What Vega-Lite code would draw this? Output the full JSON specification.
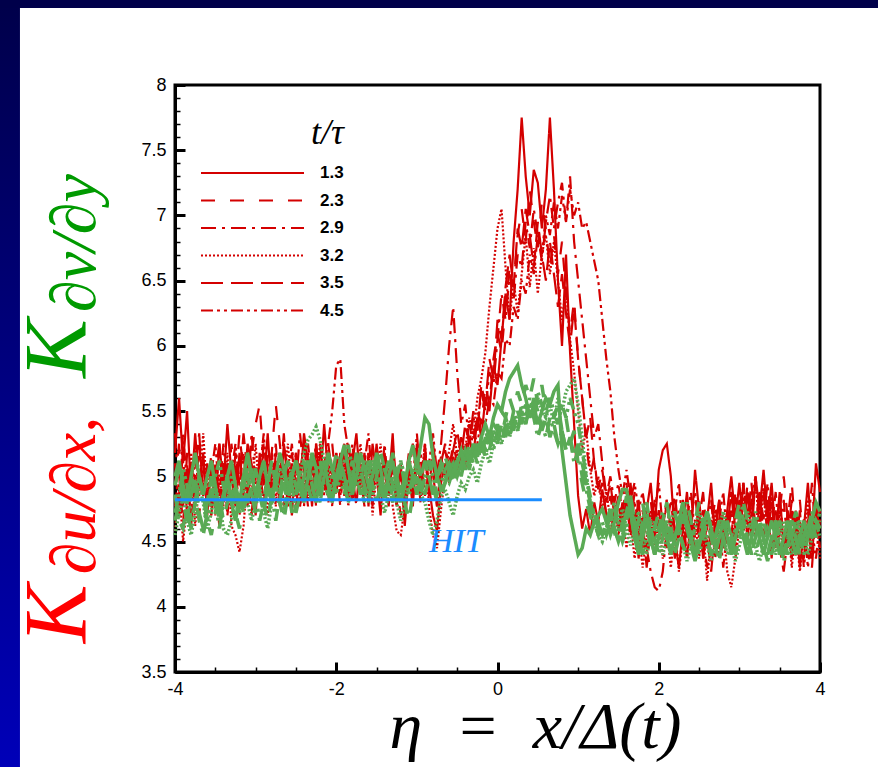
{
"$schema": "https://vega.github.io/schema/vega-lite/v6.json",
"width": 645, "height": 587,
"autosize": {"type": "none"},
"padding": {"left": 175, "top": 85, "right": 58, "bottom": 95},
"background": "white",
"config": {"view": {"stroke": "black", "strokeWidth": 3}, "axis": {"grid": false}},
"datasets": {
"meta": [{"key":"a","q":"u","t":"1.3"},{"key":"b","q":"u","t":"2.3"},{"key":"c","q":"u","t":"2.9"},{"key":"d","q":"u","t":"3.2"},{"key":"e","q":"u","t":"3.5"},{"key":"f","q":"u","t":"4.5"},{"key":"g","q":"v","t":"1.3"},{"key":"h","q":"v","t":"2.3"},{"key":"i","q":"v","t":"2.9"},{"key":"j","q":"v","t":"3.2"},{"key":"k","q":"v","t":"3.5"},{"key":"l","q":"v","t":"4.5"}],
"main": [
{"x":-4,"a":5.18,"b":4.77,"c":5.33,"d":4.58,"e":4.93,"f":5.1,"g":5,"h":4.66,"i":4.86,"j":4.55,"k":4.93,"l":4.72},
{"x":-3.95,"a":5.6,"b":5.02,"c":4.85,"d":4.93,"e":5.25,"f":4.7,"g":5.12,"h":4.8,"i":4.66,"j":4.72,"k":5.06,"l":4.86},
{"x":-3.9,"a":5.1,"b":4.62,"c":5.18,"d":4.5,"e":4.77,"f":5.33,"g":4.93,"h":5,"i":4.6,"j":4.86,"k":4.8,"l":5.06},
{"x":-3.85,"a":5.5,"b":5.18,"c":4.7,"d":4.77,"e":5.1,"f":4.93,"g":4.8,"h":4.72,"i":4.8,"j":4.66,"k":4.66,"l":4.93},
{"x":-3.8,"a":4.85,"b":4.85,"c":5.1,"d":5.18,"e":4.62,"f":4.7,"g":5,"h":4.6,"i":5,"j":4.55,"k":4.86,"l":4.66},
{"x":-3.75,"a":5.33,"b":5.25,"c":4.77,"d":4.62,"e":5.02,"f":5.18,"g":5.18,"h":4.8,"i":4.86,"j":4.72,"k":5,"l":4.8},
{"x":-3.7,"a":4.93,"b":4.7,"c":5.25,"d":4.93,"e":5.33,"f":4.85,"g":5,"h":5,"i":4.66,"j":4.93,"k":4.72,"l":5},
{"x":-3.65,"a":5.18,"b":5.02,"c":4.85,"d":5.33,"e":4.85,"f":5.1,"g":4.86,"h":4.86,"i":4.55,"j":4.8,"k":4.6,"l":4.86},
{"x":-3.6,"a":4.7,"b":4.77,"c":5.02,"d":4.85,"e":5.1,"f":4.77,"g":5,"h":4.66,"i":4.72,"j":4.6,"k":4.8,"l":4.66},
{"x":-3.55,"a":5.1,"b":5.18,"c":4.7,"d":5.1,"e":4.7,"f":5.02,"g":5.12,"h":4.55,"i":4.93,"j":4.72,"k":5,"l":4.8},
{"x":-3.5,"a":4.77,"b":4.93,"c":5.1,"d":4.7,"e":5.02,"f":5.25,"g":4.93,"h":4.72,"i":4.8,"j":4.93,"k":4.86,"l":5},
{"x":-3.45,"a":5.25,"b":4.62,"c":4.85,"d":5.02,"e":5.25,"f":4.85,"g":4.72,"h":4.86,"i":4.6,"j":4.8,"k":4.66,"l":5.12},
{"x":-3.4,"a":4.93,"b":5.1,"c":5.25,"d":4.77,"e":4.85,"f":5.1,"g":4.86,"h":4.66,"i":4.8,"j":4.6,"k":4.86,"l":4.93},
{"x":-3.35,"a":5.4,"b":4.85,"c":4.93,"d":5.18,"e":5.1,"f":4.7,"g":5,"h":4.8,"i":5,"j":4.55,"k":5,"l":4.8},
{"x":-3.3,"a":5.02,"b":5.25,"c":4.77,"d":4.62,"e":4.77,"f":5.02,"g":5.12,"h":4.93,"i":4.8,"j":4.66,"k":4.8,"l":5},
{"x":-3.25,"a":4.77,"b":4.93,"c":5.1,"d":4.55,"e":5.18,"f":5.25,"g":4.93,"h":4.72,"i":4.66,"j":4.86,"k":4.66,"l":4.86},
{"x":-3.2,"a":5.18,"b":5.33,"c":4.7,"d":4.42,"e":4.93,"f":4.93,"g":4.8,"h":4.6,"i":4.86,"j":4.72,"k":4.86,"l":4.72},
{"x":-3.15,"a":4.85,"b":5.02,"c":5.02,"d":4.62,"e":5.33,"f":5.18,"g":5,"h":4.8,"i":4.72,"j":4.93,"k":5,"l":4.93},
{"x":-3.1,"a":5.25,"b":4.77,"c":4.85,"d":5.02,"e":5.02,"f":4.85,"g":5.18,"h":5,"i":4.93,"j":4.8,"k":4.8,"l":5.06},
{"x":-3.05,"a":5.1,"b":5.18,"c":5.33,"d":4.85,"e":4.7,"f":5.1,"g":5,"h":4.86,"i":5.06,"j":4.66,"k":4.93,"l":4.86},
{"x":-3,"a":4.7,"b":5.4,"c":4.93,"d":5.25,"e":5.1,"f":4.77,"g":4.86,"h":4.72,"i":4.86,"j":4.8,"k":5.06,"l":4.8},
{"x":-2.95,"a":5.18,"b":5.55,"c":5.1,"d":4.85,"e":4.85,"f":5.02,"g":5,"h":4.93,"i":4.66,"j":4.93,"k":4.86,"l":5},
{"x":-2.9,"a":4.93,"b":5.1,"c":4.77,"d":5.1,"e":5.25,"f":5.33,"g":5.12,"h":4.8,"i":4.8,"j":4.72,"k":4.72,"l":5.12},
{"x":-2.85,"a":5.33,"b":4.85,"c":5.18,"d":4.7,"e":5.02,"f":4.93,"g":4.93,"h":4.66,"i":5,"j":4.6,"k":4.93,"l":4.93},
{"x":-2.8,"a":4.85,"b":5.18,"c":4.93,"d":5.02,"e":4.77,"f":5.18,"g":4.8,"h":4.86,"i":4.86,"j":4.8,"k":5.12,"l":4.8},
{"x":-2.75,"a":5.1,"b":5.55,"c":5.25,"d":4.77,"e":5.18,"f":4.85,"g":5,"h":5,"i":4.66,"j":5,"k":4.93,"l":4.93},
{"x":-2.7,"a":4.77,"b":5.25,"c":4.85,"d":5.18,"e":4.93,"f":5.1,"g":5.18,"h":4.8,"i":4.86,"j":4.86,"k":4.8,"l":5.06},
{"x":-2.65,"a":5.25,"b":4.93,"c":5.1,"d":4.93,"e":5.33,"f":4.77,"g":5.06,"h":4.66,"i":5.06,"j":4.72,"k":5,"l":4.93},
{"x":-2.6,"a":5.02,"b":5.1,"c":4.77,"d":5.25,"e":4.85,"f":5.02,"g":4.86,"h":4.86,"i":4.93,"j":4.93,"k":5.12,"l":4.8},
{"x":-2.55,"a":4.7,"b":4.85,"c":5.18,"d":4.85,"e":5.1,"f":5.25,"g":5,"h":5.06,"i":4.72,"j":5.06,"k":4.93,"l":5},
{"x":-2.5,"a":5.18,"b":5.18,"c":4.93,"d":5.1,"e":4.77,"f":4.85,"g":5.12,"h":4.93,"i":4.86,"j":4.86,"k":4.72,"l":5.12},
{"x":-2.45,"a":4.93,"b":4.77,"c":5.33,"d":4.77,"e":5.02,"f":5.1,"g":4.93,"h":4.8,"i":5,"j":5,"k":4.86,"l":5},
{"x":-2.4,"a":5.33,"b":5.02,"c":5.02,"d":5.02,"e":5.25,"f":4.77,"g":4.8,"h":5,"i":5.12,"j":5.18,"k":5,"l":4.86},
{"x":-2.35,"a":5.1,"b":5.25,"c":4.77,"d":4.85,"e":4.93,"f":5.18,"g":5,"h":5.12,"i":4.93,"j":5.28,"k":5.12,"l":5},
{"x":-2.3,"a":4.77,"b":4.93,"c":5.1,"d":5.18,"e":5.1,"f":5.02,"g":5.18,"h":4.93,"i":4.8,"j":5.32,"k":4.93,"l":5.12},
{"x":-2.25,"a":5.25,"b":5.18,"c":4.93,"d":4.93,"e":4.77,"f":5.25,"g":5.06,"h":4.8,"i":5,"j":5.38,"k":4.8,"l":4.93},
{"x":-2.2,"a":4.93,"b":4.85,"c":5.25,"d":5.25,"e":5.18,"f":4.93,"g":4.86,"h":5,"i":5.12,"j":5.28,"k":5,"l":4.8},
{"x":-2.15,"a":5.4,"b":5.1,"c":4.85,"d":4.93,"e":4.93,"f":5.1,"g":5,"h":5.12,"i":4.93,"j":5.12,"k":5.12,"l":5},
{"x":-2.1,"a":5.02,"b":4.77,"c":5.18,"d":5.1,"e":5.25,"f":5.25,"g":5.18,"h":4.93,"i":4.86,"j":5,"k":4.93,"l":5.12},
{"x":-2.05,"a":4.85,"b":5.25,"c":4.93,"d":4.77,"e":5.02,"f":5.5,"g":5.06,"h":4.8,"i":5,"j":4.86,"k":4.8,"l":5},
{"x":-2,"a":5.18,"b":4.93,"c":5.1,"d":5.18,"e":4.85,"f":5.85,"g":4.93,"h":5,"i":5.18,"j":5,"k":5,"l":4.86},
{"x":-1.95,"a":4.93,"b":5.18,"c":4.77,"d":4.85,"e":5.18,"f":5.9,"g":5.12,"h":5.12,"i":5,"j":5.12,"k":5.12,"l":5},
{"x":-1.9,"a":5.25,"b":4.85,"c":5.18,"d":5.1,"e":4.93,"f":5.4,"g":5.24,"h":4.93,"i":4.86,"j":4.93,"k":5,"l":5.12},
{"x":-1.85,"a":4.85,"b":5.1,"c":4.93,"d":4.77,"e":5.25,"f":5.2,"g":5.06,"h":4.8,"i":5,"j":4.8,"k":4.86,"l":5.24},
{"x":-1.8,"a":5.1,"b":4.77,"c":5.25,"d":5.18,"e":5.02,"f":4.93,"g":4.86,"h":4.93,"i":5.12,"j":4.93,"k":5,"l":5.06},
{"x":-1.75,"a":5.33,"b":5.18,"c":4.93,"d":4.93,"e":4.77,"f":5.18,"g":5,"h":5.12,"i":5,"j":5.06,"k":5.18,"l":4.93},
{"x":-1.7,"a":4.93,"b":5.02,"c":5.18,"d":5.25,"e":5.18,"f":4.85,"g":5.18,"h":5,"i":4.86,"j":4.93,"k":5.06,"l":5},
{"x":-1.65,"a":5.18,"b":4.77,"c":4.85,"d":4.93,"e":4.93,"f":5.1,"g":5.06,"h":4.86,"i":5,"j":4.8,"k":4.93,"l":5.12},
{"x":-1.6,"a":4.77,"b":5.18,"c":5.1,"d":5.18,"e":5.1,"f":5.33,"g":4.93,"h":5,"i":5.12,"j":4.93,"k":4.8,"l":5},
{"x":-1.55,"a":5.25,"b":4.93,"c":4.77,"d":4.7,"e":4.85,"f":4.93,"g":5,"h":5.18,"i":4.93,"j":5.12,"k":5,"l":4.86},
{"x":-1.5,"a":5.02,"b":5.25,"c":5.18,"d":5.02,"e":5.25,"f":5.18,"g":5.18,"h":5.06,"i":4.8,"j":5,"k":5.12,"l":5},
{"x":-1.45,"a":4.7,"b":4.85,"c":4.93,"d":5.25,"e":4.93,"f":4.77,"g":5.06,"h":4.86,"i":4.93,"j":4.86,"k":4.93,"l":5.18},
{"x":-1.4,"a":5.18,"b":5.1,"c":5.25,"d":4.85,"e":5.18,"f":5.1,"g":4.86,"h":5,"i":5.06,"j":4.72,"k":4.8,"l":5.06},
{"x":-1.35,"a":4.93,"b":4.77,"c":4.85,"d":5.1,"e":4.85,"f":4.85,"g":5,"h":5.12,"i":4.93,"j":4.86,"k":5,"l":4.93},
{"x":-1.3,"a":5.33,"b":5.18,"c":5.1,"d":4.77,"e":5.1,"f":5.25,"g":5.12,"h":4.93,"i":4.8,"j":5,"k":5.18,"l":4.86},
{"x":-1.25,"a":4.77,"b":4.93,"c":4.77,"d":4.58,"e":4.77,"f":4.93,"g":4.93,"h":4.8,"i":5,"j":4.8,"k":5,"l":5},
{"x":-1.2,"a":5.1,"b":4.7,"c":5.02,"d":4.55,"e":4.93,"f":5.1,"g":4.8,"h":4.93,"i":5.12,"j":4.66,"k":4.86,"l":5.12},
{"x":-1.15,"a":4.62,"b":4.93,"c":4.77,"d":4.77,"e":4.7,"f":4.77,"g":4.93,"h":4.8,"i":4.93,"j":4.8,"k":5,"l":5},
{"x":-1.1,"a":5.02,"b":5.18,"c":5.1,"d":5.1,"e":5.1,"f":5.02,"g":5.12,"h":4.66,"i":4.86,"j":4.93,"k":5.12,"l":4.86},
{"x":-1.05,"a":4.77,"b":4.85,"c":4.93,"d":4.85,"e":4.85,"f":5.25,"g":5.24,"h":4.86,"i":5,"j":5.06,"k":5,"l":4.93},
{"x":-1,"a":5.25,"b":5.1,"c":5.33,"d":5.18,"e":5.18,"f":4.93,"g":5.06,"h":5,"i":5.12,"j":4.93,"k":4.86,"l":5.06},
{"x":-0.95,"a":4.85,"b":4.77,"c":4.93,"d":4.93,"e":4.93,"f":5.18,"g":5.25,"h":4.86,"i":5,"j":4.86,"k":5,"l":4.93},
{"x":-0.9,"a":5.18,"b":5.18,"c":5.18,"d":5.25,"e":5.25,"f":4.85,"g":5.45,"h":5,"i":4.86,"j":4.8,"k":5.12,"l":5},
{"x":-0.85,"a":4.93,"b":4.93,"c":4.85,"d":4.77,"e":4.85,"f":5.1,"g":5.4,"h":5.12,"i":5,"j":4.66,"k":5,"l":5.12},
{"x":-0.8,"a":4.7,"b":5.02,"c":5.25,"d":4.55,"e":5.1,"f":5.33,"g":5.15,"h":4.93,"i":5.12,"j":4.55,"k":4.86,"l":5},
{"x":-0.75,"a":4.58,"b":4.77,"c":5.02,"d":4.45,"e":4.77,"f":5.02,"g":5,"h":4.8,"i":5,"j":4.66,"k":5,"l":4.86},
{"x":-0.7,"a":4.95,"b":5.05,"c":5.25,"d":4.75,"e":5.1,"f":5.15,"g":4.9,"h":4.85,"i":5.1,"j":4.85,"k":5.05,"l":4.95},
{"x":-0.65,"a":5.1,"b":5.2,"c":5.6,"d":5,"e":5.25,"f":5,"g":4.95,"h":4.95,"i":5,"j":4.9,"k":5.15,"l":5.05},
{"x":-0.6,"a":4.95,"b":5.05,"c":6,"d":5.2,"e":5.05,"f":5.15,"g":5.05,"h":5.1,"i":4.95,"j":4.8,"k":5.05,"l":5.1},
{"x":-0.55,"a":5.15,"b":5.25,"c":6.3,"d":5.4,"e":5.2,"f":5.05,"g":5.1,"h":5,"i":5.05,"j":4.7,"k":4.95,"l":5},
{"x":-0.5,"a":5,"b":5.1,"c":5.8,"d":5.15,"e":5.35,"f":5.2,"g":5,"h":5.1,"i":5.1,"j":4.85,"k":5.1,"l":5.15},
{"x":-0.45,"a":5.2,"b":5.3,"c":5.4,"d":5.3,"e":5.15,"f":5.1,"g":5.1,"h":5.2,"i":5,"j":4.95,"k":5.2,"l":5.05},
{"x":-0.4,"a":5.05,"b":5.15,"c":5.55,"d":5.2,"e":5.4,"f":5.25,"g":5.2,"h":5.1,"i":5.15,"j":4.9,"k":5.05,"l":5.2},
{"x":-0.35,"a":5.3,"b":5.4,"c":5.25,"d":5.45,"e":5.25,"f":5.15,"g":5.1,"h":5.25,"i":5.05,"j":5,"k":5.2,"l":5.1},
{"x":-0.3,"a":5.15,"b":5.25,"c":5.45,"d":5.3,"e":5.5,"f":5.35,"g":5.25,"h":5.15,"i":5.2,"j":5.05,"k":5.1,"l":5.25},
{"x":-0.25,"a":5.45,"b":5.5,"c":5.35,"d":5.6,"e":5.35,"f":5.25,"g":5.15,"h":5.3,"i":5.1,"j":4.95,"k":5.25,"l":5.15},
{"x":-0.2,"a":5.3,"b":5.4,"c":5.65,"d":5.75,"e":5.7,"f":5.45,"g":5.3,"h":5.2,"i":5.25,"j":5.1,"k":5.15,"l":5.3},
{"x":-0.15,"a":5.6,"b":5.7,"c":5.5,"d":5.95,"e":5.55,"f":5.4,"g":5.4,"h":5.35,"i":5.15,"j":5.2,"k":5.3,"l":5.2},
{"x":-0.1,"a":5.5,"b":5.55,"c":5.8,"d":6.3,"e":5.9,"f":5.6,"g":5.3,"h":5.25,"i":5.3,"j":5.1,"k":5.2,"l":5.35},
{"x":-0.05,"a":5.85,"b":5.9,"c":5.7,"d":6.6,"e":5.75,"f":5.55,"g":5.45,"h":5.4,"i":5.2,"j":5.25,"k":5.35,"l":5.25},
{"x":0,"a":5.7,"b":6.1,"c":6.05,"d":6.9,"e":6.2,"f":5.8,"g":5.55,"h":5.35,"i":5.35,"j":5.35,"k":5.25,"l":5.4},
{"x":0.05,"a":6.05,"b":5.95,"c":6.4,"d":7.05,"e":6.05,"f":5.75,"g":5.5,"h":5.5,"i":5.25,"j":5.25,"k":5.4,"l":5.3},
{"x":0.1,"a":6.4,"b":6.3,"c":6.2,"d":6.6,"e":6.45,"f":6.05,"g":5.65,"h":5.45,"i":5.4,"j":5.4,"k":5.3,"l":5.45},
{"x":0.15,"a":6.2,"b":6.6,"c":6.55,"d":6.2,"e":6.7,"f":6,"g":5.75,"h":5.6,"i":5.3,"j":5.3,"k":5.45,"l":5.35},
{"x":0.2,"a":6.8,"b":6.45,"c":6.35,"d":6.5,"e":6.45,"f":6.3,"g":5.8,"h":5.5,"i":5.45,"j":5.45,"k":5.35,"l":5.5},
{"x":0.25,"a":7.2,"b":6.85,"c":6.7,"d":6.25,"e":6.9,"f":6.2,"g":5.85,"h":5.65,"i":5.35,"j":5.35,"k":5.5,"l":5.4},
{"x":0.3,"a":7.75,"b":7.05,"c":6.6,"d":6.55,"e":6.75,"f":6.5,"g":5.7,"h":5.55,"i":5.5,"j":5.5,"k":5.4,"l":5.55},
{"x":0.35,"a":7.3,"b":6.8,"c":6.95,"d":6.85,"e":7.05,"f":6.4,"g":5.6,"h":5.7,"i":5.4,"j":5.4,"k":5.55,"l":5.45},
{"x":0.4,"a":7,"b":7.2,"c":6.75,"d":6.45,"e":6.85,"f":6.7,"g":5.45,"h":5.6,"i":5.55,"j":5.55,"k":5.45,"l":5.6},
{"x":0.45,"a":7.35,"b":6.95,"c":7.05,"d":6.75,"e":6.6,"f":6.55,"g":5.55,"h":5.75,"i":5.45,"j":5.45,"k":5.6,"l":5.5},
{"x":0.5,"a":7.25,"b":6.75,"c":6.85,"d":6.4,"e":6.95,"f":6.85,"g":5.4,"h":5.55,"i":5.3,"j":5.6,"k":5.5,"l":5.65},
{"x":0.55,"a":6.9,"b":7.1,"c":6.65,"d":6.7,"e":6.7,"f":6.7,"g":5.5,"h":5.7,"i":5.4,"j":5.5,"k":5.35,"l":5.55},
{"x":0.6,"a":7.2,"b":6.9,"c":6.95,"d":6.85,"e":6.5,"f":7,"g":5.6,"h":5.5,"i":5.3,"j":5.45,"k":5.45,"l":5.45},
{"x":0.65,"a":7.75,"b":6.6,"c":7.15,"d":6.55,"e":6.8,"f":6.85,"g":5.55,"h":5.6,"i":5.45,"j":5.55,"k":5.3,"l":5.6},
{"x":0.7,"a":7.2,"b":6.85,"c":6.9,"d":6.8,"e":6.55,"f":7.1,"g":5.65,"h":5.45,"i":5.35,"j":5.4,"k":5.4,"l":5.5},
{"x":0.75,"a":6.5,"b":6.55,"c":7.1,"d":6.5,"e":6.3,"f":6.9,"g":5.7,"h":5.55,"i":5.25,"j":5.6,"k":5.25,"l":5.4},
{"x":0.8,"a":6,"b":6.8,"c":7.25,"d":6.2,"e":6.55,"f":7.15,"g":5.2,"h":5.35,"i":5.35,"j":5.5,"k":5.35,"l":5.55},
{"x":0.85,"a":6.7,"b":6.4,"c":6.95,"d":6.45,"e":6.25,"f":6.95,"g":4.95,"h":5.45,"i":5.2,"j":5.65,"k":5.2,"l":5.45},
{"x":0.9,"a":5.95,"b":6.1,"c":7.3,"d":6.05,"e":6,"f":7.2,"g":4.7,"h":5.25,"i":5.3,"j":5.7,"k":5.3,"l":5.6},
{"x":0.95,"a":5.4,"b":6.35,"c":6.8,"d":5.8,"e":6.3,"f":7,"g":4.55,"h":5.35,"i":5.1,"j":5.75,"k":5.15,"l":5.5},
{"x":1,"a":4.85,"b":5.9,"c":6.5,"d":5.5,"e":5.9,"f":7.1,"g":4.4,"h":5.1,"i":5.2,"j":5.55,"k":5.25,"l":5.4},
{"x":1.05,"a":4.6,"b":5.6,"c":6.2,"d":5.2,"e":5.6,"f":6.9,"g":4.45,"h":4.95,"i":5,"j":5.3,"k":5.1,"l":5.2},
{"x":1.1,"a":4.75,"b":5.25,"c":5.9,"d":5.35,"e":5.3,"f":6.95,"g":4.6,"h":4.8,"i":4.9,"j":5,"k":4.95,"l":5},
{"x":1.15,"a":4.55,"b":5,"c":5.6,"d":5.05,"e":5.45,"f":6.8,"g":4.55,"h":4.7,"i":4.75,"j":4.8,"k":4.8,"l":4.85},
{"x":1.2,"a":4.8,"b":5.15,"c":5.3,"d":4.85,"e":5.1,"f":6.65,"g":4.65,"h":4.6,"i":4.65,"j":4.65,"k":4.7,"l":4.7},
{"x":1.25,"a":4.65,"b":4.85,"c":5.4,"d":5,"e":4.9,"f":6.5,"g":4.7,"h":4.65,"i":4.55,"j":4.55,"k":4.6,"l":4.65},
{"x":1.3,"a":4.9,"b":4.95,"c":5.1,"d":4.75,"e":5.05,"f":6.2,"g":4.75,"h":4.55,"i":4.65,"j":4.5,"k":4.55,"l":4.55},
{"x":1.35,"a":4.7,"b":4.7,"c":4.85,"d":4.9,"e":4.8,"f":5.9,"g":4.65,"h":4.65,"i":4.55,"j":4.6,"k":4.65,"l":4.6},
{"x":1.4,"a":4.55,"b":4.85,"c":5,"d":4.65,"e":4.95,"f":5.65,"g":4.55,"h":4.75,"i":4.65,"j":4.7,"k":4.75,"l":4.7},
{"x":1.45,"a":4.75,"b":4.65,"c":4.8,"d":4.8,"e":4.7,"f":5.3,"g":4.65,"h":4.6,"i":4.75,"j":4.55,"k":4.6,"l":4.8},
{"x":1.5,"a":4.6,"b":4.8,"c":4.95,"d":4.55,"e":4.85,"f":5.05,"g":4.8,"h":4.5,"i":4.6,"j":4.65,"k":4.5,"l":4.65},
{"x":1.55,"a":4.8,"b":4.55,"c":4.7,"d":4.7,"e":4.6,"f":4.85,"g":4.9,"h":4.65,"i":4.5,"j":4.75,"k":4.6,"l":4.55},
{"x":1.6,"a":4.67,"b":4.82,"c":4.95,"d":4.45,"e":4.82,"f":5.05,"g":4.9,"h":4.85,"i":4.6,"j":4.6,"k":4.73,"l":4.66},
{"x":1.65,"a":4.95,"b":4.6,"c":4.6,"d":4.67,"e":4.53,"f":4.82,"g":4.73,"h":4.73,"i":4.8,"j":4.47,"k":4.85,"l":4.8},
{"x":1.7,"a":4.6,"b":4.88,"c":4.82,"d":4.37,"e":4.74,"f":4.95,"g":4.53,"h":4.53,"i":4.66,"j":4.6,"k":4.66,"l":4.6},
{"x":1.75,"a":4.82,"b":4.53,"c":4.53,"d":4.6,"e":4.37,"f":4.74,"g":4.4,"h":4.66,"i":4.53,"j":4.73,"k":4.47,"l":4.47},
{"x":1.8,"a":4.45,"b":4.74,"c":4.74,"d":4.3,"e":4.67,"f":4.88,"g":4.53,"h":4.8,"i":4.4,"j":4.53,"k":4.6,"l":4.66},
{"x":1.85,"a":4.74,"b":4.45,"c":4.45,"d":4.53,"e":4.3,"f":4.67,"g":4.66,"h":4.6,"i":4.53,"j":4.4,"k":4.73,"l":4.8},
{"x":1.9,"a":4.95,"b":4.82,"c":4.27,"d":4.74,"e":4.6,"f":4.53,"g":4.53,"h":4.47,"i":4.66,"j":4.53,"k":4.53,"l":4.6},
{"x":1.95,"a":4.6,"b":4.53,"c":4.15,"d":4.45,"e":4.82,"f":4.74,"g":4.4,"h":4.6,"i":4.53,"j":4.66,"k":4.4,"l":4.47},
{"x":2,"a":5.05,"b":4.74,"c":4.12,"d":4.67,"e":4.53,"f":4.95,"g":4.53,"h":4.73,"i":4.4,"j":4.53,"k":4.53,"l":4.6},
{"x":2.05,"a":5.2,"b":4.53,"c":4.27,"d":4.37,"e":4.74,"f":4.6,"g":4.66,"h":4.6,"i":4.53,"j":4.4,"k":4.66,"l":4.73},
{"x":2.1,"a":5.25,"b":4.82,"c":4.6,"d":4.6,"e":4.45,"f":4.82,"g":4.53,"h":4.47,"i":4.66,"j":4.53,"k":4.8,"l":4.6},
{"x":2.15,"a":5,"b":4.6,"c":4.82,"d":4.3,"e":4.67,"f":4.53,"g":4.4,"h":4.6,"i":4.53,"j":4.66,"k":4.6,"l":4.47},
{"x":2.2,"a":4.53,"b":4.88,"c":4.53,"d":4.6,"e":4.37,"f":4.74,"g":4.53,"h":4.73,"i":4.4,"j":4.73,"k":4.47,"l":4.53},
{"x":2.25,"a":4.3,"b":4.53,"c":4.74,"d":4.27,"e":4.6,"f":4.95,"g":4.66,"h":4.6,"i":4.53,"j":4.6,"k":4.6,"l":4.66},
{"x":2.3,"a":4.6,"b":4.74,"c":4.45,"d":4.53,"e":4.82,"f":4.6,"g":4.8,"h":4.47,"i":4.66,"j":4.47,"k":4.73,"l":4.8},
{"x":2.35,"a":4.88,"b":4.37,"c":4.67,"d":4.74,"e":4.53,"f":4.37,"g":4.66,"h":4.4,"i":4.8,"j":4.35,"k":4.6,"l":4.66},
{"x":2.4,"a":4.53,"b":4.67,"c":4.88,"d":4.45,"e":4.74,"f":4.67,"g":4.53,"h":4.53,"i":4.66,"j":4.47,"k":4.47,"l":4.53},
{"x":2.45,"a":5.05,"b":4.45,"c":4.53,"d":4.67,"e":4.37,"f":4.88,"g":4.4,"h":4.66,"i":4.53,"j":4.6,"k":4.35,"l":4.4},
{"x":2.5,"a":4.74,"b":4.82,"c":4.74,"d":4.37,"e":4.67,"f":4.53,"g":4.47,"h":4.8,"i":4.4,"j":4.73,"k":4.47,"l":4.53},
{"x":2.55,"a":4.37,"b":4.53,"c":4.37,"d":4.6,"e":4.88,"f":4.74,"g":4.6,"h":4.66,"i":4.53,"j":4.6,"k":4.6,"l":4.66},
{"x":2.6,"a":4.67,"b":4.3,"c":4.6,"d":4.2,"e":4.53,"f":4.45,"g":4.73,"h":4.53,"i":4.66,"j":4.47,"k":4.73,"l":4.53},
{"x":2.65,"a":4.95,"b":4.6,"c":4.82,"d":4.53,"e":4.27,"f":4.67,"g":4.6,"h":4.4,"i":4.53,"j":4.35,"k":4.6,"l":4.4},
{"x":2.7,"a":4.53,"b":4.82,"c":4.45,"d":4.74,"e":4.6,"f":4.37,"g":4.47,"h":4.53,"i":4.4,"j":4.47,"k":4.47,"l":4.53},
{"x":2.75,"a":4.82,"b":4.45,"c":4.67,"d":4.37,"e":4.82,"f":4.67,"g":4.53,"h":4.66,"i":4.53,"j":4.6,"k":4.35,"l":4.66},
{"x":2.8,"a":4.45,"b":4.74,"c":4.3,"d":4.6,"e":4.45,"f":4.88,"g":4.66,"h":4.53,"i":4.66,"j":4.73,"k":4.53,"l":4.53},
{"x":2.85,"a":4.74,"b":4.53,"c":4.6,"d":4.27,"e":4.74,"f":4.53,"g":4.53,"h":4.4,"i":4.53,"j":4.6,"k":4.66,"l":4.4},
{"x":2.9,"a":5,"b":4.88,"c":4.88,"d":4.15,"e":4.53,"f":4.74,"g":4.4,"h":4.53,"i":4.4,"j":4.47,"k":4.53,"l":4.47},
{"x":2.95,"a":4.67,"b":4.6,"c":4.53,"d":4.37,"e":4.88,"f":4.45,"g":4.53,"h":4.66,"i":4.53,"j":4.35,"k":4.4,"l":4.6},
{"x":3,"a":4.95,"b":4.82,"c":4.74,"d":4.6,"e":4.6,"f":4.67,"g":4.66,"h":4.8,"i":4.66,"j":4.47,"k":4.53,"l":4.73},
{"x":3.05,"a":4.6,"b":4.53,"c":4.95,"d":4.82,"e":4.95,"f":4.88,"g":4.53,"h":4.66,"i":4.8,"j":4.6,"k":4.66,"l":4.6},
{"x":3.1,"a":4.88,"b":4.95,"c":4.6,"d":4.53,"e":4.67,"f":4.53,"g":4.4,"h":4.53,"i":4.66,"j":4.73,"k":4.53,"l":4.47},
{"x":3.15,"a":4.53,"b":4.67,"c":4.82,"d":4.74,"e":4.95,"f":4.82,"g":4.53,"h":4.4,"i":4.53,"j":4.6,"k":4.4,"l":4.6},
{"x":3.2,"a":5,"b":4.95,"c":4.53,"d":4.95,"e":4.6,"f":5,"g":4.66,"h":4.53,"i":4.4,"j":4.47,"k":4.53,"l":4.73},
{"x":3.25,"a":4.74,"b":4.6,"c":4.88,"d":4.6,"e":4.88,"f":4.67,"g":4.53,"h":4.66,"i":4.53,"j":4.35,"k":4.66,"l":4.6},
{"x":3.3,"a":5.05,"b":4.88,"c":4.67,"d":4.88,"e":4.53,"f":4.95,"g":4.4,"h":4.53,"i":4.66,"j":4.47,"k":4.53,"l":4.47},
{"x":3.35,"a":4.67,"b":4.53,"c":4.95,"d":4.53,"e":4.82,"f":4.6,"g":4.53,"h":4.4,"i":4.53,"j":4.6,"k":4.4,"l":4.35},
{"x":3.4,"a":4.95,"b":4.82,"c":4.6,"d":4.82,"e":4.37,"f":4.88,"g":4.66,"h":4.53,"i":4.4,"j":4.53,"k":4.53,"l":4.47},
{"x":3.45,"a":4.53,"b":4.45,"c":4.88,"d":4.45,"e":4.74,"f":4.53,"g":4.53,"h":4.66,"i":4.53,"j":4.4,"k":4.66,"l":4.6},
{"x":3.5,"a":4.88,"b":4.74,"c":4.53,"d":4.74,"e":4.45,"f":4.82,"g":4.4,"h":4.53,"i":4.66,"j":4.53,"k":4.53,"l":4.47},
{"x":3.55,"a":4.45,"b":5,"c":4.82,"d":4.37,"e":4.27,"f":4.45,"g":4.53,"h":4.4,"i":4.53,"j":4.66,"k":4.4,"l":4.35},
{"x":3.6,"a":4.74,"b":4.67,"c":4.45,"d":4.67,"e":4.53,"f":4.67,"g":4.66,"h":4.53,"i":4.4,"j":4.53,"k":4.53,"l":4.47},
{"x":3.65,"a":4.37,"b":4.95,"c":4.74,"d":4.3,"e":4.82,"f":4.37,"g":4.53,"h":4.66,"i":4.53,"j":4.4,"k":4.66,"l":4.6},
{"x":3.7,"a":4.67,"b":4.53,"c":4.37,"d":4.6,"e":4.45,"f":4.74,"g":4.4,"h":4.53,"i":4.66,"j":4.53,"k":4.53,"l":4.73},
{"x":3.75,"a":4.3,"b":4.82,"c":4.67,"d":4.27,"e":4.74,"f":4.45,"g":4.53,"h":4.4,"i":4.53,"j":4.66,"k":4.4,"l":4.6},
{"x":3.8,"a":4.6,"b":4.45,"c":4.3,"d":4.53,"e":4.37,"f":4.67,"g":4.66,"h":4.53,"i":4.4,"j":4.53,"k":4.53,"l":4.47},
{"x":3.85,"a":4.95,"b":4.74,"c":4.6,"d":4.82,"e":4.67,"f":4.3,"g":4.53,"h":4.66,"i":4.53,"j":4.4,"k":4.66,"l":4.6},
{"x":3.9,"a":4.53,"b":4.37,"c":4.95,"d":4.45,"e":4.3,"f":4.6,"g":4.66,"h":4.53,"i":4.66,"j":4.53,"k":4.53,"l":4.73},
{"x":3.95,"a":5.1,"b":4.82,"c":4.53,"d":4.74,"e":4.74,"f":4.37,"g":4.8,"h":4.66,"i":4.53,"j":4.66,"k":4.66,"l":4.6},
{"x":4,"a":4.88,"b":4.53,"c":4.74,"d":4.37,"e":4.45,"f":4.67,"g":4.73,"h":4.6,"i":4.66,"j":4.53,"k":4.6,"l":4.73}
]},
"resolve": {"axis": {"x": "independent", "y": "independent"}, "legend": {"strokeDash": "independent"}},
"layer": [
{"data": {"values": [{}]},
 "mark": {"type": "rect", "fill": {"gradient": "linear", "x1": 0, "y1": 0, "x2": 0, "y2": 1, "stops": [{"offset": 0, "color": "#00004a"}, {"offset": 1, "color": "#0000b8"}]}},
 "encoding": {"x": {"datum": -6.171, "type": "quantitative", "axis": null}, "x2": {"datum": -5.923}, "y": {"datum": 8.652, "type": "quantitative", "axis": null}, "y2": {"datum": 2.77}}},
{"data": {"values": [{}]},
 "mark": {"type": "rect", "fill": "#00004a"},
 "encoding": {"x": {"datum": -6.171, "type": "quantitative", "axis": null}, "x2": {"datum": 4.722}, "y": {"datum": 8.652, "type": "quantitative", "axis": null}, "y2": {"datum": 8.59}}},
{"data": {"name": "main"},
 "transform": [{"fold": ["a","b","c","d","e","f","g","h","i","j","k","l"], "as": ["key","value"]}, {"lookup": "key", "from": {"data": {"name": "meta"}, "key": "key", "fields": ["q","t"]}}, {"filter": "datum.q === 'u'"}],
 "mark": {"type": "line", "color": "#d40000", "strokeWidth": 2.2},
 "encoding": {
  "x": {"field": "x", "type": "quantitative", "scale": {"domain": [-4, 4], "nice": false, "zero": false},
   "axis": {"orient": "bottom", "values": [-4,-2,0,2,4], "labelExpr": "toString(datum.value)", "labelFlush": false, "labelFont": "Liberation Sans", "labelFontSize": 18, "labelColor": "black", "labelPadding": 18, "tickSize": -10, "tickWidth": 3, "tickColor": "black", "domainColor": "black", "domainWidth": 3,
    "title": "η\u00a0\u00a0=\u00a0\u00a0x/Δ(t)", "titleFont": "Liberation Serif", "titleFontSize": 66, "titleFontStyle": "italic", "titleFontWeight": "normal", "titleColor": "black", "titleX": 360, "titleY": 75, "titleBaseline": "alphabetic"}},
  "y": {"field": "value", "type": "quantitative", "scale": {"domain": [3.5, 8], "nice": false, "zero": false},
   "axis": {"orient": "left", "values": [3.5,4,4.5,5,5.5,6,6.5,7,7.5,8], "labelExpr": "toString(datum.value)", "labelFlush": false, "labelFont": "Liberation Sans", "labelFontSize": 18, "labelColor": "black", "labelPadding": 19, "tickSize": -10, "tickWidth": 3, "tickColor": "black", "domainColor": "black", "domainWidth": 3, "title": null}},
  "strokeDash": {"field": "t", "type": "nominal", "scale": {"domain": ["1.3","2.3","2.9","3.2","3.5","4.5"], "range": [[1,0],[14,15],[15,6,3,6],[2,2],[22,8],[12,4,3,4,3,4]]},
   "legend": {"orient": "none", "legendX": 25, "legendY": 31, "title": "t/τ", "titleFont": "Liberation Serif", "titleFontSize": 36, "titleFontStyle": "italic", "titleFontWeight": "normal", "titleColor": "black", "titleAnchor": "end", "titlePadding": 12,
    "labelFont": "Liberation Sans", "labelFontSize": 17, "labelFontWeight": "bold", "labelColor": "black", "labelOffset": 15, "symbolType": "stroke", "symbolSize": 10609, "symbolStrokeWidth": 2, "symbolStrokeColor": "#d40000", "clipHeight": 18, "rowPadding": 9.5}}
 }},
{"data": {"name": "main"},
 "transform": [{"fold": ["a","b","c","d","e","f","g","h","i","j","k","l"], "as": ["key","value"]}, {"lookup": "key", "from": {"data": {"name": "meta"}, "key": "key", "fields": ["q","t"]}}, {"filter": "datum.q === 'v'"}],
 "mark": {"type": "line", "color": "#5aaa55", "strokeWidth": 3.5},
 "encoding": {
  "x": {"field": "x", "type": "quantitative", "axis": {"orient": "bottom", "values": [-4,-3.5,-3,-2.5,-2,-1.5,-1,-0.5,0,0.5,1,1.5,2,2.5,3,3.5,4], "labels": false, "domain": false, "tickSize": -5, "tickWidth": 1.5, "tickColor": "black", "title": null}},
  "y": {"field": "value", "type": "quantitative", "axis": {"orient": "left", "values": [3.5,3.6,3.7,3.8,3.9,4,4.1,4.2,4.3,4.4,4.5,4.6,4.7,4.8,4.9,5,5.1,5.2,5.3,5.4,5.5,5.6,5.7,5.8,5.9,6,6.1,6.2,6.3,6.4,6.5,6.6,6.7,6.8,6.9,7,7.1,7.2,7.3,7.4,7.5,7.6,7.7,7.8,7.9,8], "labels": false, "domain": false, "tickSize": -5, "tickWidth": 1.5, "tickColor": "black", "title": null}},
  "strokeDash": {"field": "t", "type": "nominal", "legend": null}
 }},
{"data": {"values": [{}]},
 "mark": {"type": "rule", "color": "#1a8cff", "strokeWidth": 3},
 "encoding": {"x": {"datum": -4, "type": "quantitative", "axis": null}, "x2": {"datum": 0.55}, "y": {"datum": 4.82, "type": "quantitative", "axis": null}}},
{"data": {"values": [{}]},
 "mark": {"type": "text", "text": "HIT", "font": "Liberation Serif", "fontStyle": "italic", "fontSize": 34, "color": "#1a8cff", "align": "center", "baseline": "alphabetic"},
 "encoding": {"x": {"datum": -0.51, "type": "quantitative", "axis": null}, "y": {"datum": 4.42, "type": "quantitative", "axis": null}}},
{"data": {"values": [{}]},
 "mark": {"type": "text", "text": "K", "font": "Liberation Serif", "fontStyle": "italic", "fontSize": 88, "color": "#ff0000", "angle": 270, "align": "left", "baseline": "alphabetic"},
 "encoding": {"x": {"datum": -5.117, "type": "quantitative", "axis": null}, "y": {"datum": 3.721, "type": "quantitative", "axis": null}}},
{"data": {"values": [{}]},
 "mark": {"type": "text", "text": "∂u/∂x,", "font": "Liberation Serif", "fontStyle": "italic", "fontSize": 64, "color": "#ff0000", "angle": 270, "align": "left", "baseline": "alphabetic"},
 "encoding": {"x": {"datum": -4.993, "type": "quantitative", "axis": null}, "y": {"datum": 4.25, "type": "quantitative", "axis": null}}},
{"data": {"values": [{}]},
 "mark": {"type": "text", "text": "K", "font": "Liberation Serif", "fontStyle": "italic", "fontSize": 88, "color": "#009a00", "angle": 270, "align": "left", "baseline": "alphabetic"},
 "encoding": {"x": {"datum": -5.117, "type": "quantitative", "axis": null}, "y": {"datum": 5.753, "type": "quantitative", "axis": null}}},
{"data": {"values": [{}]},
 "mark": {"type": "text", "text": "∂v/∂y", "font": "Liberation Serif", "fontStyle": "italic", "fontSize": 64, "color": "#009a00", "angle": 270, "align": "left", "baseline": "alphabetic"},
 "encoding": {"x": {"datum": -4.993, "type": "quantitative", "axis": null}, "y": {"datum": 6.26, "type": "quantitative", "axis": null}}}
]
}
